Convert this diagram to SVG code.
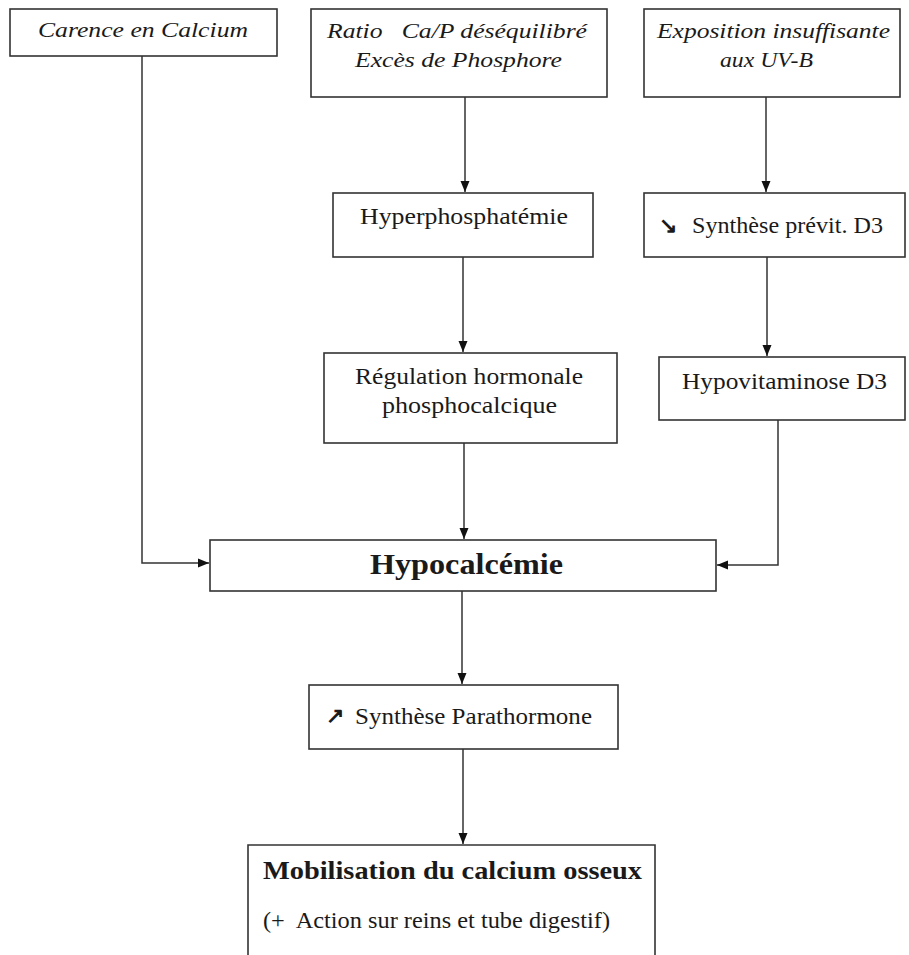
<svg xmlns="http://www.w3.org/2000/svg" width="909" height="955" viewBox="0 0 909 955">
<style>
.box{fill:#fff;stroke:#333;stroke-width:1.6}
.t{font-family:"Liberation Serif","Times New Roman",serif;font-size:23px;fill:#1a1a1a;text-anchor:start}
.i{font-style:italic;font-size:22px}
.b{font-weight:bold}
.c{fill:none;stroke:#333;stroke-width:1.5}
</style>
<defs>
<marker id="ah" markerWidth="12" markerHeight="12" refX="11" refY="5" orient="auto" markerUnits="userSpaceOnUse">
<path d="M0,0.5 L11,5 L0,9.5 Z" fill="#111"/>
</marker>
</defs>
<rect width="909" height="955" fill="#fff"/>
<g id="connectors">
<path class="c" d="M142 56 V563 H209" marker-end="url(#ah)"/>
<path class="c" d="M465 97 V192" marker-end="url(#ah)"/>
<path class="c" d="M766 97 V192" marker-end="url(#ah)"/>
<path class="c" d="M463 257 V352" marker-end="url(#ah)"/>
<path class="c" d="M767 257 V356" marker-end="url(#ah)"/>
<path class="c" d="M464 443 V539" marker-end="url(#ah)"/>
<path class="c" d="M778 420 V565 H717" marker-end="url(#ah)"/>
<path class="c" d="M462 591 V684" marker-end="url(#ah)"/>
<path class="c" d="M463 749 V844" marker-end="url(#ah)"/>
</g>
<g id="carence">
<rect class="box" x="10" y="9" width="267" height="47"/>
<text class="t i" x="38" y="37" textLength="210" lengthAdjust="spacingAndGlyphs">Carence en Calcium</text>
</g>
<g id="ratio">
<rect class="box" x="311" y="9" width="296" height="88"/>
<text class="t i" x="327" y="38" textLength="260" lengthAdjust="spacingAndGlyphs" xml:space="preserve">Ratio   Ca/P déséquilibré</text>
<text class="t i" x="355" y="67" textLength="207" lengthAdjust="spacingAndGlyphs">Excès de Phosphore</text>
</g>
<g id="exposition">
<rect class="box" x="644" y="9" width="256" height="88"/>
<text class="t i" x="657" y="38" textLength="233" lengthAdjust="spacingAndGlyphs">Exposition insuffisante</text>
<text class="t i" x="720" y="67" textLength="93" lengthAdjust="spacingAndGlyphs">aux UV-B</text>
</g>
<g id="hyperphosphatemie">
<rect class="box" x="333" y="193" width="260" height="64"/>
<text class="t" x="360" y="224" textLength="208" lengthAdjust="spacingAndGlyphs">Hyperphosphatémie</text>
</g>
<g id="synthese-previt">
<rect class="box" x="644" y="193" width="261" height="64"/>
<text class="t b" x="659" y="233" style="font-size:22px">↘</text>
<text class="t" x="692" y="233" textLength="191" lengthAdjust="spacingAndGlyphs">Synthèse prévit. D3</text>
</g>
<g id="regulation">
<rect class="box" x="324" y="353" width="293" height="90"/>
<text class="t" x="355" y="384" textLength="228" lengthAdjust="spacingAndGlyphs">Régulation hormonale</text>
<text class="t" x="382" y="413" textLength="175" lengthAdjust="spacingAndGlyphs">phosphocalcique</text>
</g>
<g id="hypovitaminose">
<rect class="box" x="659" y="357" width="246" height="63"/>
<text class="t" x="682" y="389" textLength="205" lengthAdjust="spacingAndGlyphs">Hypovitaminose D3</text>
</g>
<g id="hypocalcemie">
<rect class="box" x="210" y="540" width="506" height="51"/>
<text class="t b" x="370" y="574" style="font-size:30px" textLength="193" lengthAdjust="spacingAndGlyphs">Hypocalcémie</text>
</g>
<g id="parathormone">
<rect class="box" x="309" y="685" width="309" height="64"/>
<text class="t b" x="326" y="723" style="font-size:22px">↗</text>
<text class="t" x="355" y="724" textLength="237" lengthAdjust="spacingAndGlyphs">Synthèse Parathormone</text>
</g>
<g id="mobilisation">
<path class="box" d="M248 960 V845 H655 V960"/>
<text class="t b" x="263" y="879" style="font-size:26px" textLength="379" lengthAdjust="spacingAndGlyphs">Mobilisation du calcium osseux</text>
<text class="t" x="263" y="928" textLength="347" lengthAdjust="spacingAndGlyphs" xml:space="preserve">(+  Action sur reins et tube digestif)</text>
</g>
</svg>
